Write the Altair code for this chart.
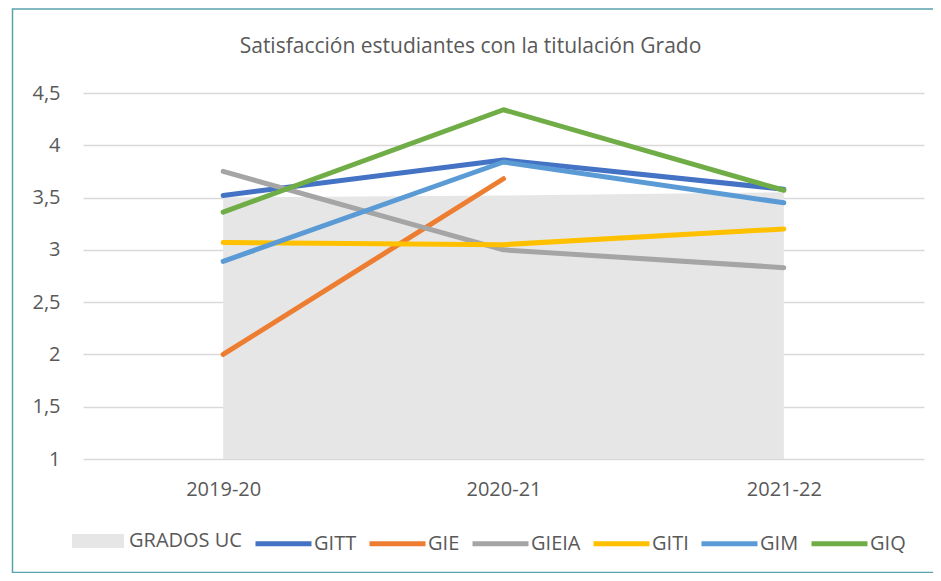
import altair as alt
import pandas as pd

years = ["2019-20", "2020-21", "2021-22"]
grados_uc = [3.50, 3.52, 3.55]
series_names = ["GITT", "GIE", "GIEIA", "GITI", "GIM", "GIQ"]
gitt = [3.52, 3.86, 3.58]
gie = [2.00, 3.68, None]
gieia = [3.75, 3.00, 2.83]
giti = [3.07, 3.05, 3.20]
gim = [2.89, 3.84, 3.45]
giq = [3.36, 4.34, 3.57]
series_values = [gitt, gie, gieia, giti, gim, giq]
line_colors = ["#4472C4", "#ED7D31", "#A5A5A5", "#FFC000", "#5B9BD5", "#70AD47"]
y_ticks = [1, 1.5, 2, 2.5, 3, 3.5, 4, 4.5]

FONT = "Open Sans"
TXT = "#595959"

area_df = pd.DataFrame({"curso": years, "valor": grados_uc, "serie": "GRADOS UC"})
rows = []
for name, vals in zip(series_names, series_values):
    for y, v in zip(years, vals):
        if v is not None:
            rows.append({"curso": y, "valor": v, "serie": name})
lines_df = pd.DataFrame(rows)
frame_df = pd.DataFrame({"k": [0]})

x_enc = alt.X("curso:N", sort=years, title=None,
              scale=alt.Scale(type="point", padding=0.5),
              axis=alt.Axis(domain=False, ticks=False, labelAngle=0, labelPadding=20,
                            labelFontSize=20, labelFont=FONT, labelColor=TXT, grid=False))
y_scale = alt.Scale(domain=[1, 4.5], nice=False, zero=False)
y_axis = alt.Axis(values=y_ticks, domain=False, ticks=False, labelPadding=23,
                  labelFontSize=20, labelFont=FONT, labelColor=TXT,
                  gridColor="#d9d9d9", gridWidth=1.3,
                  labelExpr="replace(format(datum.value, '~g'), '.', ',')")

frame = alt.Chart(frame_df).mark_rect(fillOpacity=0, stroke="#5aa3ad", strokeWidth=1.5).encode(
    x=alt.value(-70.5), x2=alt.value(880), y=alt.value(-84), y2=alt.value(479.5)
)

area = alt.Chart(area_df).mark_area(opacity=1, clip=True).encode(
    x=x_enc,
    y=alt.Y("valor:Q", scale=y_scale, axis=y_axis, title=None),
    fill=alt.Fill("serie:N", scale=alt.Scale(domain=["GRADOS UC"], range=["#e6e6e6"]),
                  legend=alt.Legend(title=None, orient="none", legendX=-11, legendY=422,
                                    symbolType="M-1,-0.27H1V0.27H-1Z", symbolSize=2704,
                                    symbolStrokeWidth=0, labelFontSize=20, labelFont=FONT,
                                    labelColor=TXT, labelOffset=5, padding=0)),
)

lines = alt.Chart(lines_df).mark_line(strokeWidth=5, strokeCap="round", strokeJoin="round").encode(
    x=alt.X("curso:N", sort=years),
    y=alt.Y("valor:Q", scale=y_scale),
    color=alt.Color("serie:N", sort=series_names,
                    scale=alt.Scale(domain=series_names, range=line_colors),
                    legend=alt.Legend(title=None, orient="none", legendX=170, legendY=420,
                                      direction="horizontal", columns=6,
                                      symbolType="stroke", symbolSize=3136, symbolStrokeWidth=5,
                                      labelFontSize=20, labelFont=FONT, labelColor=TXT,
                                      labelOffset=0, columnPadding=2, padding=0)),
    order=alt.Order("serie:N"),
)

chart = alt.layer(frame, area, lines).resolve_scale(color="independent", fill="independent").properties(
    width=841, height=366,
    title=alt.TitleParams(text="Satisfacción estudiantes con la titulación Grado", anchor="middle",
                          dx=-33, dy=49, offset=0, fontSize=21, font=FONT, fontWeight="normal", color=TXT),
    autosize=alt.AutoSizeParams(type="none"),
    padding={"left": 75, "top": 85, "right": 9, "bottom": 114},
).configure(background="white").configure_view(strokeWidth=0)

chart.save("out.html", embed_options={"renderer": "svg", "actions": False})
